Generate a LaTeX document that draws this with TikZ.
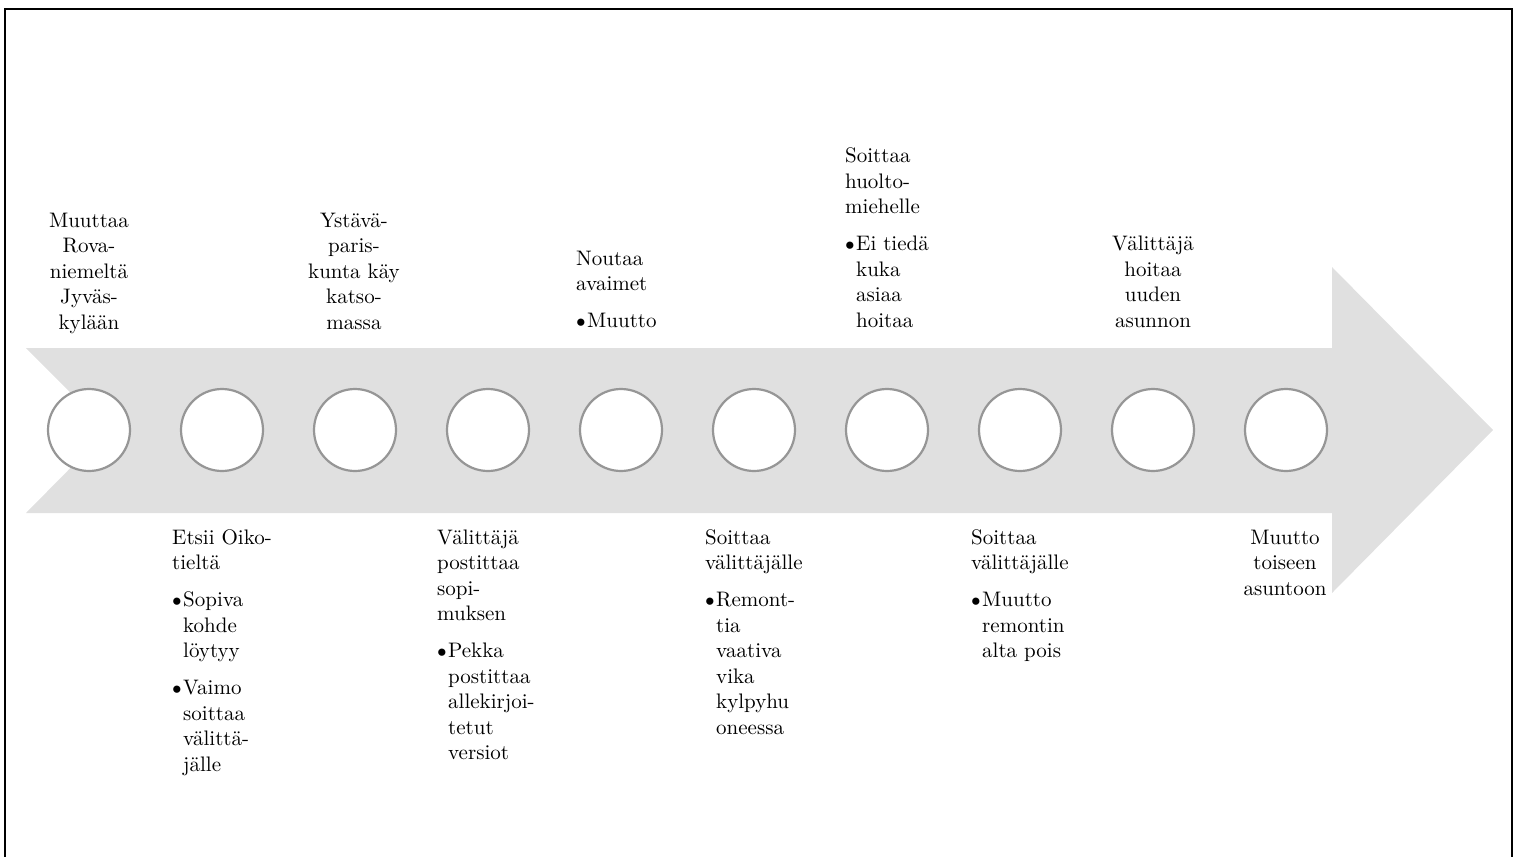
\documentclass[tikz,border=0pt]{standalone}
\usepackage{fontspec}
\newfontfamily\lmten{lmroman10-regular.otf}
\definecolor{bandgray}{RGB}{224,224,224}
\definecolor{ringgray}{RGB}{150,150,150}
\tikzset{
  stage/.style={circle, draw=ringgray, fill=white, line width=2.2pt, minimum size=82pt, inner sep=0pt},
  lbl/.style={font=\lmten\fontsize{21}{25.5}\selectfont, inner sep=0pt, text=black},
  lblc/.style={lbl, align=center, anchor=north},
  lbll/.style={lbl, align=left, anchor=north west},
}
\newcommand{\bul}{\makebox[11pt][l]{\kern-5.2pt\raisebox{-1pt}{\scalebox{1.2}{\textbullet}}}}
\newcommand{\ind}{\hspace*{11pt}}
\begin{document}
\begin{tikzpicture}[x=1pt,y=-1pt]
\useasboundingbox (0,0) rectangle (1516,857);
% frame
\draw[line width=2.4pt, black] (5,857) -- (5,9) -- (1512,9) -- (1512,857);
% arrow band
\fill[bandgray] (26,348) -- (1332,348) -- (1332,267) -- (1493,430) -- (1332,593) -- (1332,513) -- (26,513) -- (108,430) -- cycle;
% stages
\foreach \i/\x in {1/89,2/222,3/355,4/488,5/621,6/754,7/887,8/1020,9/1153,10/1286}
  \node[stage] (c\i) at (\x,430) {};
% labels above
\node[lblc] (t1) at (89,209.15) {\strut Muuttaa\\Rova-\\niemeltä\\Jyväs-\\kylään};
\node[lblc] (t3) at (354,209.15) {\strut Ystävä-\\paris-\\kunta käy\\katso-\\massa};
\node[lbll] (t5) at (576,247.15) {\strut Noutaa\\avaimet\\[11.5pt]\bul Muutto};
\node[lbll] (t7) at (845,144.65) {\strut Soittaa\\huolto-\\miehelle\\[11.5pt]\bul Ei tiedä\\\ind kuka\\\ind asiaa\\\ind hoitaa};
\node[lblc] (t9) at (1153,232.65) {\strut Välittäjä\\hoitaa\\uuden\\asunnon};
% labels below
\node[lbll] (t2) at (172,526.15) {\strut Etsii Oiko-\\tieltä\\[11.5pt]\bul Sopiva\\\ind kohde\\\ind löytyy\\[11.5pt]\bul Vaimo\\\ind soittaa\\\ind välittä-\\\ind jälle};
\node[lbll] (t4) at (437,526.15) {\strut Välittäjä\\postittaa\\sopi-\\muksen\\[11.5pt]\bul Pekka\\\ind postittaa\\\ind allekirjoi-\\\ind tetut\\\ind versiot};
\node[lbll] (t6) at (705,526.15) {\strut Soittaa\\välittäjälle\\[11.5pt]\bul Remont-\\\ind tia\\\ind vaativa\\\ind vika\\\ind kylpyhu\\\ind oneessa};
\node[lbll] (t8) at (971,526.15) {\strut Soittaa\\välittäjälle\\[11.5pt]\bul Muutto\\\ind remontin\\\ind alta pois};
\node[lblc] (t10) at (1285,526.15) {\strut Muutto\\toiseen\\asuntoon};
\end{tikzpicture}
\end{document}
